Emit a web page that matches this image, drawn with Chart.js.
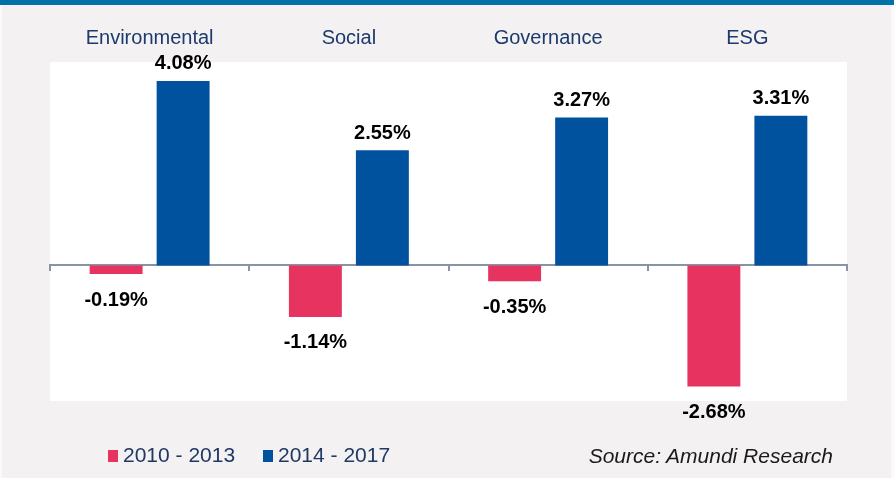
<!DOCTYPE html>
<html>
<head>
<meta charset="utf-8">
<script src="https://cdn.jsdelivr.net/npm/chart.js@4/dist/chart.umd.min.js"></script>
<style>
  html, body { margin: 0; padding: 0; background: #fbfafb; }
  .frame { position: absolute; left: 0; top: 0; width: 894px; height: 478px; overflow: hidden; }
  .panel { position: absolute; left: 2px; top: 0; width: 889px; height: 478px; background: #f3f1f2; }
  .band { position: absolute; left: 0; top: 0; width: 894px; height: 5px; background: #0072a7; }
  canvas { position: absolute; left: 0; top: 0; }
  .legend { position: absolute; top: 443px; left: 0; font-family: Arial, "Liberation Sans", sans-serif; font-size: 21px; color: #1f3864; }
  .legend span { position: absolute; white-space: nowrap; }
  .legend i { position: absolute; width: 10px; height: 12px; }
  .source { position: absolute; right: 61px; top: 444px; font-family: Arial, "Liberation Sans", sans-serif; font-style: italic; font-size: 21px; color: #1a1a1a; white-space: nowrap; }
</style>
</head>
<body>
<div class="frame">
  <div class="panel"></div>
  <div class="band"></div>
  <canvas id="esgChart" width="894" height="478"></canvas>
  <div class="legend" id="legend"></div>
  <div class="source">Source: Amundi Research</div>
</div>
<script>
// Données
const categories = ['Environmental', 'Social', 'Governance', 'ESG'];
const periods = ['2010 - 2013', '2014 - 2017'];
const values2010 = [-0.19, -1.14, -0.35, -2.68];
const values2014 = [4.08, 2.55, 3.27, 3.31];
const colors = ['#e6335f', '#00519e'];

// Fond blanc de la zone du graphique
const plotBackground = {
    id: 'plotBackground',
    beforeDraw(chart) {
        const { ctx, chartArea } = chart;
        ctx.save();
        ctx.fillStyle = '#ffffff';
        ctx.fillRect(chartArea.left, chartArea.top, chartArea.right - chartArea.left, chartArea.bottom - chartArea.top);
        ctx.restore();
    }
};

// Titres des catégories et étiquettes des valeurs
const labelsPlugin = {
    id: 'labelsPlugin',
    afterDatasetsDraw(chart) {
        const { ctx } = chart;
        const xScale = chart.scales.x;
        ctx.save();
        ctx.textAlign = 'center';
        ctx.textBaseline = 'middle';
        ctx.fillStyle = '#1c3a6c';
        ctx.font = '20px Arial, "Liberation Sans", sans-serif';
        categories.forEach((cat, i) => {
            ctx.fillText(cat, xScale.getPixelForValue(i), 38);
        });
        ctx.fillStyle = '#000000';
        ctx.font = 'bold 20px Arial, "Liberation Sans", sans-serif';
        chart.data.datasets.forEach((ds, d) => {
            const meta = chart.getDatasetMeta(d);
            meta.data.forEach((bar, i) => {
                const v = ds.data[i];
                const y = v >= 0 ? bar.y - 17 : bar.y + 26;
                ctx.fillText(v.toFixed(2) + '%', bar.x, y);
            });
        });
        ctx.restore();
    }
};

new Chart(document.getElementById('esgChart'), {
    type: 'bar',
    data: {
        labels: categories,
        datasets: [
            { label: periods[0], data: values2010, backgroundColor: colors[0] },
            { label: periods[1], data: values2014, backgroundColor: colors[1] }
        ]
    },
    options: {
        responsive: false,
        animation: false,
        layout: { padding: { top: 62, left: 50, right: 47, bottom: 77 } },
        categoryPercentage: 0.6725,
        barPercentage: 0.79,
        plugins: {
            legend: { display: false },
            tooltip: { enabled: false }
        },
        scales: {
            x: {
                position: { y: 0 },
                grid: { drawOnChartArea: false, drawTicks: true, tickLength: 5, color: '#8793a6', lineWidth: 2 },
                border: { color: '#8793a6', width: 2 },
                ticks: { display: false }
            },
            y: {
                display: false,
                min: -3,
                max: 4.5
            }
        }
    },
    plugins: [plotBackground, labelsPlugin]
});

// Légende
const legend = document.getElementById('legend');
const legendX = [108, 263];
periods.forEach((p, i) => {
    const box = document.createElement('i');
    box.style.left = legendX[i] + 'px';
    box.style.top = '7px';
    box.style.background = colors[i];
    const txt = document.createElement('span');
    txt.style.left = (legendX[i] + 15) + 'px';
    txt.textContent = p;
    legend.appendChild(box);
    legend.appendChild(txt);
});
</script>
</body>
</html>
